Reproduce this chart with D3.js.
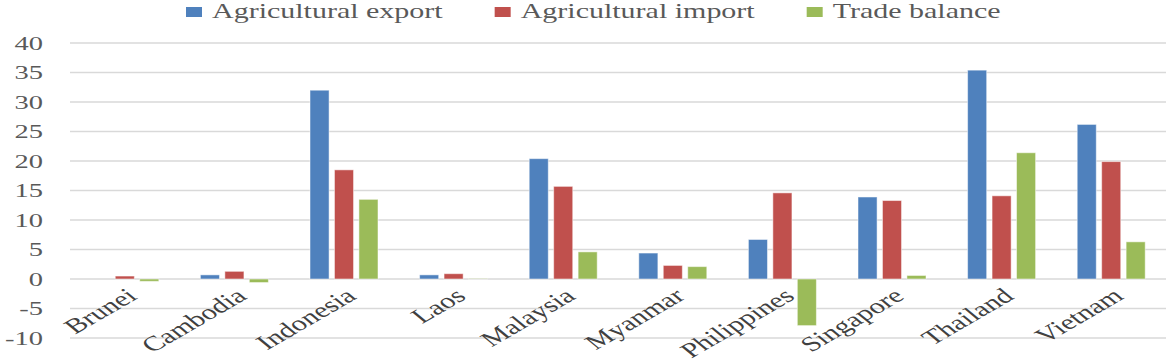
<!DOCTYPE html>
<html>
<head>
<meta charset="utf-8">
<script src="https://cdn.jsdelivr.net/npm/d3@7"></script>
<style>
  body { margin: 0; background: #fff; }
</style>
</head>
<body>
<svg id="chart" width="1170" height="364"></svg>
<script>
const countries = ["Brunei", "Cambodia", "Indonesia", "Laos", "Malaysia", "Myanmar", "Philippines", "Singapore", "Thailand", "Vietnam"];
const seriesNames = ["Agricultural export", "Agricultural import", "Trade balance"];
const exportValues = [0, 0.7, 32.0, 0.7, 20.4, 4.4, 6.7, 13.9, 35.4, 26.2];
const importValues = [0.5, 1.3, 18.5, 0.9, 15.7, 2.3, 14.6, 13.3, 14.1, 19.9];
const balanceValues = [-0.4, -0.6, 13.5, 0.05, 4.6, 2.1, -7.9, 0.6, 21.4, 6.3];
const yTicks = [-10, -5, 0, 5, 10, 15, 20, 25, 30, 35, 40];
const colors = ["#4f81bd", "#c0504d", "#9bbb59"];
const serif = "'Liberation Serif'";

const svg = d3.select("#chart");
const margin = { left: 70, right: 4, top: 43, bottom: 26 };
const width = 1170 - margin.left - margin.right;
const height = 364 - margin.top - margin.bottom;
const sx = 1.5; // the source text is drawn horizontally stretched

const data = countries.map((c, i) => ({
    country: c,
    values: [exportValues[i], importValues[i], balanceValues[i]]
}));

const chart = svg.append("g")
    .attr("transform", "translate(" + margin.left + "," + margin.top + ")");

const x0 = d3.scaleBand().domain(countries).range([0, width]);
const groupWidth = 68;
const x1 = d3.scaleBand().domain(d3.range(3)).range([0, groupWidth]).paddingInner(0.22);
const y = d3.scaleLinear().domain([-10, 40]).range([height, 0]);

// grid
chart.append("g")
    .selectAll("line")
    .data(yTicks)
    .join("line")
    .attr("x1", 0)
    .attr("x2", width)
    .attr("y1", d => y(d))
    .attr("y2", d => y(d))
    .attr("stroke", "#d9d9d9")
    .attr("stroke-width", 1.5);

// y labels
chart.append("g")
    .selectAll("text")
    .data(yTicks)
    .join("text")
    .attr("transform", d => "translate(-27," + y(d) + ") scale(" + sx + ",1)")
    .attr("text-anchor", "end")
    .attr("dy", "0.35em")
    .style("font-family", serif)
    .attr("font-size", 19)
    .attr("fill", "#595959")
    .text(d => d);

// bars
const groups = chart.append("g")
    .selectAll("g")
    .data(data)
    .join("g")
    .attr("transform", d => "translate(" + (x0(d.country) + (x0.bandwidth() - groupWidth) / 2) + ",0)");

groups.selectAll("rect")
    .data(d => d.values.map((v, i) => ({ v, i })))
    .join("rect")
    .attr("x", d => x1(d.i))
    .attr("width", x1.bandwidth())
    .attr("y", d => y(Math.max(0, d.v)))
    .attr("height", d => Math.abs(y(d.v) - y(0)))
    .attr("fill", d => colors[d.i])
    .attr("stroke", "#ffffff")
    .attr("stroke-opacity", 0.5)
    .attr("stroke-width", 1);

// category labels
chart.append("g")
    .selectAll("text")
    .data(countries)
    .join("text")
    .attr("transform", d => "translate(" + (x0(d) + x0.bandwidth() / 2 - 1) + "," + (y(0) + 7) + ") scale(1.45,1) rotate(-40)")
    .attr("text-anchor", "end")
    .attr("dy", "0.75em")
    .style("font-family", serif)
    .attr("font-size", 21)
    .attr("fill", "#404040")
    .text(d => d);

// legend
const legend = svg.append("g").attr("transform", "translate(186,0)");
let lx = 0;
seriesNames.forEach((name, i) => {
    const item = legend.append("g").attr("transform", "translate(" + lx + ",0)");
    item.append("rect")
        .attr("x", 0)
        .attr("y", 7)
        .attr("width", 16)
        .attr("height", 10)
        .attr("fill", colors[i]);
    const t = item.append("text")
        .attr("transform", "translate(26,18) scale(" + sx + ",1)")
        .style("font-family", serif)
        .attr("font-size", 20)
        .attr("fill", "#595959")
        .text(name);
    lx += 26 + t.node().getComputedTextLength() * sx + 52;
});
</script>
</body>
</html>
